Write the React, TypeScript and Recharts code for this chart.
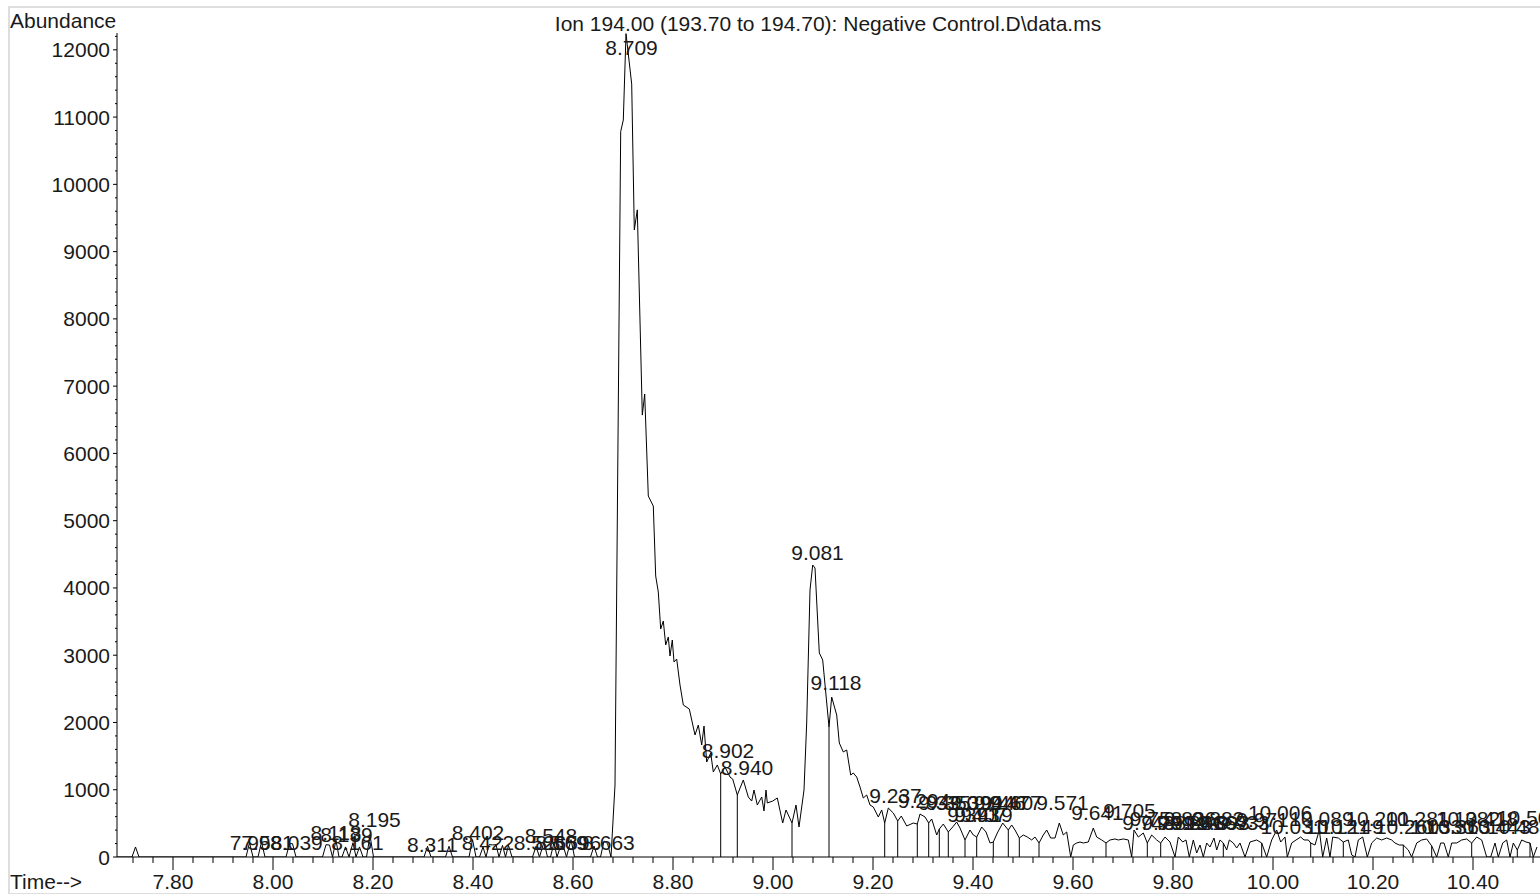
import React from "react";
import {
  ComposedChart,
  Line,
  Scatter,
  XAxis,
  YAxis,
  ReferenceLine,
} from "recharts";

// scan times (min) and abundance of the Ion 194 trace
const retentionTime = [
  7.688, 7.718, 7.725, 7.732, 7.946, 7.953, 7.96, 7.97, 7.977, 7.984,
  8.026, 8.033, 8.039, 8.046, 8.099, 8.106, 8.113, 8.119, 8.126, 8.132,
  8.138, 8.145, 8.152, 8.16, 8.166, 8.173, 8.18, 8.187, 8.194, 8.201,
  8.302, 8.309, 8.316, 8.345, 8.352, 8.359, 8.392, 8.399, 8.406, 8.413,
  8.42, 8.426, 8.432, 8.439, 8.446, 8.452, 8.459, 8.465, 8.471, 8.478,
  8.519, 8.526, 8.533, 8.542, 8.549, 8.555, 8.562, 8.568, 8.575, 8.581,
  8.587, 8.596, 8.603, 8.635, 8.642, 8.649, 8.655, 8.662, 8.669, 8.676,
  8.684, 8.6954, 8.7006, 8.706, 8.7174, 8.7226, 8.7286, 8.7386, 8.7434, 8.7506,
  8.7606, 8.7654, 8.7706, 8.7754, 8.7806, 8.7854, 8.7906, 8.794, 8.7986, 8.802,
  8.8074, 8.814, 8.8206, 8.8326, 8.844, 8.8506, 8.8574, 8.862, 8.8674, 8.8754,
  8.8806, 8.8886, 8.8954, 8.904, 8.914, 8.9194, 8.9286, 8.9406, 8.9506, 8.9574,
  8.962, 8.9686, 8.9774, 8.982, 8.986, 8.9886, 8.9994, 9.0086, 9.0194, 9.026,
  9.038, 9.046, 9.052, 9.062, 9.0674, 9.074, 9.0794, 9.084, 9.0926, 9.0994,
  9.112, 9.1174, 9.1274, 9.1326, 9.1406, 9.1474, 9.1554, 9.1606, 9.1674, 9.174,
  9.1806, 9.1874, 9.194, 9.2006, 9.2106, 9.2174, 9.2234, 9.2306, 9.2406, 9.2494,
  9.2566, 9.2674, 9.2806, 9.2886, 9.294, 9.304, 9.3114, 9.3174, 9.3274, 9.3326,
  9.3406, 9.3506, 9.3594, 9.3674, 9.374, 9.384, 9.394, 9.4006, 9.4074, 9.4174,
  9.426, 9.434, 9.4406, 9.4486, 9.4594, 9.4706, 9.4774, 9.484, 9.4926, 9.5006,
  9.5086, 9.5174, 9.524, 9.532, 9.5406, 9.5474, 9.5554, 9.564, 9.5726, 9.5806,
  9.5874, 9.5954, 9.6006, 9.6074, 9.614, 9.6206, 9.6306, 9.6406, 9.6474, 9.6574,
  9.666, 9.674, 9.684, 9.6906, 9.7006, 9.7106, 9.7174, 9.722, 9.7306, 9.7406,
  9.7486, 9.7574, 9.7674, 9.7754, 9.784, 9.794, 9.804, 9.8106, 9.8194, 9.826,
  9.8326, 9.8406, 9.8474, 9.854, 9.8606, 9.8674, 9.874, 9.882, 9.8874, 9.894,
  9.9006, 9.9074, 9.9126, 9.9206, 9.9274, 9.934, 9.944, 9.954, 9.9674, 9.9774,
  9.9874, 9.9974, 10.0074, 10.0154, 10.024, 10.0286, 10.0374, 10.046, 10.0554, 10.062,
  10.0706, 10.0754, 10.084, 10.0926, 10.0994, 10.1074, 10.114, 10.1194, 10.1306, 10.1406,
  10.1506, 10.1574, 10.164, 10.1706, 10.1794, 10.1886, 10.1974, 10.2074, 10.2174, 10.2274,
  10.2374, 10.244, 10.2526, 10.2606, 10.2706, 10.2774, 10.2874, 10.2974, 10.3074, 10.3174,
  10.3274, 10.3354, 10.342, 10.3506, 10.3574, 10.3674, 10.3774, 10.3874, 10.3974, 10.4074,
  10.4174, 10.4274, 10.4354, 10.444, 10.4506, 10.4594, 10.4674, 10.474, 10.4806, 10.4886,
  10.4974, 10.506, 10.514, 10.5206, 10.528,
];

const abundance = [
  0, 0, 149, 0, 0, 213, 0, 0, 223, 0,
  0, 198, 198, 0, 0, 183, 178, 0, 248, 0,
  0, 150, 0, 213, 0, 150, 0, 0, 322, 0,
  0, 159, 0, 0, 159, 0, 0, 258, 0, 0,
  149, 0, 183, 180, 183, 0, 173, 0, 173, 0,
  0, 159, 0, 223, 0, 0, 213, 0, 159, 150,
  0, 258, 0, 0, 163, 0, 0, 238, 200, 0,
  1070, 10785, 10956, 12240, 11491, 9323, 9621, 6570, 6883, 5366,
  5218, 4177, 3939, 3389, 3508, 3152, 3270, 2988, 3226, 2899,
  2943, 2557, 2260, 2200, 1814, 1962, 1665, 1947, 1412, 1546,
  1264, 1368, 1234, 1338, 1189, 1159, 922, 1145, 892, 832,
  996, 773, 892, 684, 996, 803, 832, 877, 505, 699,
  505, 773, 446, 996, 1992, 3969, 4341, 4296, 3033, 2929,
  1932, 2378, 2111, 1695, 1561, 1591, 1219, 1249, 1189, 1041,
  877, 922, 773, 743, 595, 699, 505, 728, 654, 535,
  609, 461, 505, 490, 639, 595, 505, 565, 327, 416,
  490, 372, 446, 520, 431, 253, 401, 327, 297, 446,
  372, 208, 223, 357, 505, 401, 476, 401, 282, 327,
  297, 253, 297, 208, 327, 401, 282, 282, 505, 327,
  372, 0, 178, 208, 223, 208, 223, 431, 297, 253,
  208, 253, 268, 253, 268, 253, 0, 401, 297, 357,
  208, 327, 253, 208, 297, 223, 0, 297, 223, 253,
  0, 253, 59, 178, 0, 208, 149, 282, 104, 253,
  208, 104, 253, 208, 134, 208, 0, 223, 253, 208,
  0, 253, 401, 223, 297, 0, 208, 253, 297, 253,
  253, 208, 178, 401, 0, 282, 0, 297, 282, 223,
  253, 30, 0, 253, 297, 0, 208, 282, 253, 282,
  253, 208, 178, 178, 104, 0, 208, 253, 268, 164,
  0, 208, 208, 0, 208, 208, 253, 268, 208, 297,
  253, 0, 0, 208, 0, 208, 253, 0, 208, 104,
  253, 223, 208, 0, 149,
];

// integration boundaries drawn as drop lines
const dropLineTimes = [
  8.8954, 8.9286, 9.038, 9.112, 9.2234, 9.2494, 9.2886, 9.3114, 9.3326, 9.3506,
  9.384, 9.4074, 9.4406, 9.4706, 9.4926, 9.532, 9.666, 9.7486, 9.7754, 9.9006,
  9.9774, 10.0754, 10.1406, 10.2606, 10.3174, 10.3974, 10.4886, 10.514,
];

// retention time labels and the abundance level their baseline sits at
const peakRT = [
  "7.958", "7.981", "8.039", "8.118", "8.139", "8.161", "8.195", "8.311", "8.402", "8.422",
  "8.526", "8.548", "8.569", "8.596", "8.663", "8.709", "8.902", "8.940", "9.081", "9.118",
  "9.237", "9.294", "9.335", "9.350", "9.393", "9.399", "9.407", "9.419", "9.446", "9.460",
  "9.477", "9.571", "9.641", "9.705", "9.743", "9.758", "9.781", "9.811", "9.826", "9.841",
  "9.866", "9.882", "9.893", "9.933", "9.971", "10.006", "10.031", "10.089", "10.121", "10.149",
  "10.201", "10.260", "10.281", "10.330", "10.363", "10.382", "10.418", "10.443", "10.484", "10.504",
];
const labelLevel = [
  104, 104, 104, 253, 230, 104, 446, 74, 253, 104,
  104, 208, 104, 104, 104, 11923, 1472, 1219, 4415, 2483,
  803, 728, 699, 699, 520, 699, 520, 520, 699, 699,
  699, 699, 550, 580, 401, 461, 401, 401, 461, 401,
  401, 461, 401, 401, 446, 550, 342, 461, 342, 342,
  461, 342, 461, 342, 342, 461, 461, 342, 342, 476,
];

const xMajorTicks = [7.8, 8.0, 8.2, 8.4, 8.6, 8.8, 9.0, 9.2, 9.4, 9.6, 9.8, 10.0, 10.2, 10.4];
const yMajorTicks = [0, 1000, 2000, 3000, 4000, 5000, 6000, 7000, 8000, 9000, 10000, 11000, 12000];

const X_DOMAIN: [number, number] = [7.688, 10.534];
const Y_DOMAIN: [number, number] = [0, 12250];
const FONT = "'Liberation Sans', Arial, sans-serif";
const INK = "#1a1a1a";

const trace = retentionTime.map((t, i) => ({ t, v: abundance[i] }));

const valueAt = (t: number) => {
  for (let i = 0; i < retentionTime.length - 1; i++) {
    const a = retentionTime[i];
    const b = retentionTime[i + 1];
    if (t >= a && t <= b) {
      const f = b === a ? 0 : (t - a) / (b - a);
      return abundance[i] + f * (abundance[i + 1] - abundance[i]);
    }
  }
  return 0;
};

const labelPoints = peakRT.map((s, i) => ({ t: Number(s), v: labelLevel[i], text: s }));

// minor ticks: five per major interval, one interval extended on each side
const xTicks: number[] = [];
for (let k = Math.round(xMajorTicks[0] * 25) - 2; k <= Math.round(xMajorTicks[xMajorTicks.length - 1] * 25) + 3; k++) {
  const v = (k * 4) / 100;
  if (v >= X_DOMAIN[0] && v <= X_DOMAIN[1]) xTicks.push(v);
}
const yTicks: number[] = [];
for (let k = 0; k <= yMajorTicks[yMajorTicks.length - 1] / 200 + 1; k++) {
  const v = k * 200;
  if (v <= Y_DOMAIN[1]) yTicks.push(v);
}

const isXMajor = (v: number) => xMajorTicks.some((m) => Math.abs(m - v) < 1e-6);

const XTick = (props: any) => {
  const { x, y, payload } = props;
  const major = isXMajor(payload.value);
  return (
    <g>
      <line x1={x} x2={x} y1={y} y2={y + (major ? 13 : 6)} stroke="#000" />
      {major && (
        <text x={x} y={y + 32} textAnchor="middle" fontFamily={FONT} fontSize={21} fill={INK}>
          {payload.value.toFixed(2)}
        </text>
      )}
    </g>
  );
};

const YTick = (props: any) => {
  const { x, y, payload } = props;
  const major = payload.value % 1000 === 0;
  return (
    <g>
      <line x1={x - (major ? 4 : 2)} x2={x} y1={y} y2={y} stroke="#000" />
      {major && (
        <text x={x - 7} y={y + 7.5} textAnchor="end" fontFamily={FONT} fontSize={21} fill={INK}>
          {payload.value}
        </text>
      )}
    </g>
  );
};

const PeakLabel = (props: any) => {
  const { cx, cy } = props;
  const text = props.payload?.text ?? props.text;
  if (cx == null || cy == null) return <g />;
  return (
    <text x={cx + 4} y={cy} textAnchor="middle" fontFamily={FONT} fontSize={21} fill={INK}>
      {text}
    </text>
  );
};

export default function App() {
  return (
    <div
      style={{
        position: "absolute",
        left: 0,
        top: 0,
        width: 1540,
        height: 894,
        background: "#fff",
        overflow: "hidden",
      }}>
      {/* window frame */}
      <div
        style={{
          position: "absolute",
          left: 8,
          top: 6,
          width: 1600,
          height: 885,
          borderTop: "2px solid #dedede",
          borderLeft: "2px solid #dedede",
          borderBottom: "2px solid #dedede",
        }}
      />
      <div style={{ position: "absolute", left: 0, top: 0 }}>
        <ComposedChart
          width={1540}
          height={894}
          data={trace}
          margin={{ top: 33, right: 0, bottom: 0, left: 0 }}>
          <XAxis
            dataKey="t"
            type="number"
            domain={X_DOMAIN}
            allowDataOverflow
            ticks={xTicks}
            interval={0}
            tickLine={false}
            tickSize={0}
            tickMargin={0}
            height={37}
            axisLine={{ stroke: "#000" }}
            tick={(p: any) => <XTick {...p} />}
          />
          <YAxis
            type="number"
            domain={Y_DOMAIN}
            allowDataOverflow
            ticks={yTicks}
            interval={0}
            tickLine={false}
            tickSize={0}
            tickMargin={0}
            width={117}
            axisLine={{ stroke: "#000" }}
            tick={(p: any) => <YTick {...p} />}
          />
          {dropLineTimes.map((t) => (
            <ReferenceLine
              key={`drop-${t}`}
              segment={[
                { x: t, y: 0 },
                { x: t, y: valueAt(t) },
              ]}
              stroke="#000"
              strokeWidth={1}
            />
          ))}
          <Line
            dataKey="v"
            type="linear"
            dot={false}
            stroke="#000"
            strokeWidth={1}
            isAnimationActive={false}
          />
          <Scatter
            data={labelPoints}
            dataKey="v"
            shape={(p: any) => <PeakLabel {...p} />}
            isAnimationActive={false}
          />
        </ComposedChart>
      </div>
      <svg
        width={1540}
        height={894}
        style={{ position: "absolute", left: 0, top: 0, pointerEvents: "none" }}>
        <text x={10} y={28} fontFamily={FONT} fontSize={21} fill={INK}>
          Abundance
        </text>
        <text x={828} y={31} textAnchor="middle" fontFamily={FONT} fontSize={21} fill={INK}>
          Ion 194.00 (193.70 to 194.70): Negative Control.D\data.ms
        </text>
        <text x={10} y={889} fontFamily={FONT} fontSize={21} fill={INK}>
          Time--&gt;
        </text>
      </svg>
    </div>
  );
}
